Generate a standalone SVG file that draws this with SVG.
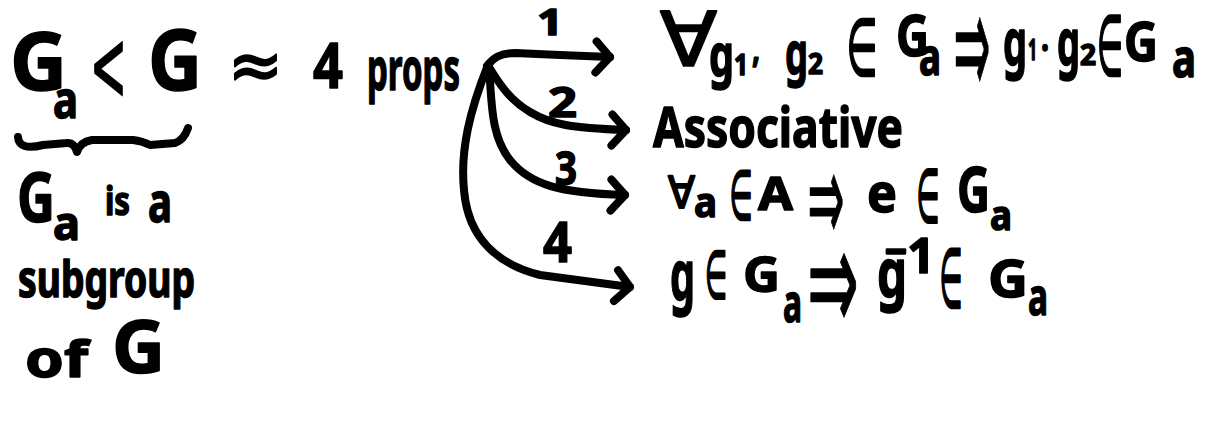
<svg xmlns="http://www.w3.org/2000/svg" width="1210" height="428" viewBox="0 0 1210 428">
<style>
text{font-family:"Noto Sans","DejaVu Sans",sans-serif;font-weight:700;fill:#000;stroke:#000;stroke-width:1.5;stroke-linejoin:round}
.m{font-family:"DejaVu Sans","Noto Sans",sans-serif;font-weight:400;stroke-width:2}
.c{font-family:"DejaVu Sans","Noto Sans",sans-serif;font-weight:400;stroke-width:2.5;text-anchor:middle;dominant-baseline:central}
.ar{font-family:"DejaVu Sans","Noto Sans",sans-serif;font-weight:400;stroke-width:1;text-anchor:middle;dominant-baseline:central;vector-effect:non-scaling-stroke}
.ln{fill:none;stroke:#000;stroke-width:8;stroke-linecap:round;stroke-linejoin:round}
</style>
<defs>
<marker id="ah" markerUnits="userSpaceOnUse" markerWidth="40" markerHeight="40" refX="0" refY="0" viewBox="-20 -20 40 40" orient="auto" overflow="visible">
<path d="M-14,-15 L0,0 L-14,16" fill="none" stroke="#000" stroke-width="8" stroke-linecap="round" stroke-linejoin="round"/>
</marker>
</defs>
<rect width="1210" height="428" fill="#fff"/>

<g id="lhs">
<text x="10" y="90" font-size="80" textLength="57" lengthAdjust="spacingAndGlyphs">G</text>
<text x="53" y="118" font-size="51" textLength="25" lengthAdjust="spacingAndGlyphs">a</text>
<text class="m" x="90" y="100" font-size="100" textLength="37" lengthAdjust="spacingAndGlyphs" stroke-width="5">&lt;</text>
<text x="148" y="90" font-size="84" textLength="54" lengthAdjust="spacingAndGlyphs">G</text>
<text class="m" x="228" y="89" font-size="70" textLength="55" lengthAdjust="spacingAndGlyphs" stroke-width="4">≈</text>
<text x="313" y="88" font-size="63" textLength="30" lengthAdjust="spacingAndGlyphs">4</text>
<text x="367" y="90" font-size="60" textLength="93" lengthAdjust="spacingAndGlyphs">props</text>
<path class="ln" d="M18,137 Q19,151 43,145 L67,143 Q74,142 77,152 Q80,142 92,140 L133,140 Q142,141 150,145 L175,143 Q184,140 188,128"/>
</g>

<g id="note">
<text x="17" y="222" font-size="68" textLength="38" lengthAdjust="spacingAndGlyphs">G</text>
<text x="53" y="240" font-size="46" textLength="27" lengthAdjust="spacingAndGlyphs">a</text>
<text x="105" y="215" font-size="40" textLength="25" lengthAdjust="spacingAndGlyphs">is</text>
<text x="148" y="222" font-size="55" textLength="24" lengthAdjust="spacingAndGlyphs">a</text>
<text x="18" y="297" font-size="50" textLength="177" lengthAdjust="spacingAndGlyphs">subgroup</text>
<text x="25" y="377" font-size="50" textLength="63" lengthAdjust="spacingAndGlyphs">of</text>
<text x="112" y="373" font-size="74" textLength="53" lengthAdjust="spacingAndGlyphs">G</text>
</g>

<g id="connectors">
<path class="ln" d="M487,66 C493,58 500,53 515,53 L560,55 L610,57" marker-end="url(#ah)"/>
<path class="ln" d="M489,67 C500,85 510,100 530,112 C550,124 570,128 626,130" marker-end="url(#ah)"/>
<path class="ln" d="M489,68 C492,100 490,135 510,160 C530,185 560,193 625,195" marker-end="url(#ah)"/>
<path class="ln" d="M488,65 C470,110 460,150 464,190 C468,240 500,265 540,275 L630,287" marker-end="url(#ah)"/>
<text x="537" y="35" font-size="35" textLength="26" lengthAdjust="spacingAndGlyphs">1</text>
<text x="548" y="117" font-size="41" textLength="29" lengthAdjust="spacingAndGlyphs">2</text>
<text x="555" y="185" font-size="46" textLength="22" lengthAdjust="spacingAndGlyphs">3</text>
<text x="543" y="262" font-size="56" textLength="29" lengthAdjust="spacingAndGlyphs">4</text>
</g>

<g id="p1">
<text class="m" x="660" y="66" font-size="75" textLength="57" lengthAdjust="spacingAndGlyphs">∀</text>
<text x="709" y="76" font-size="60" textLength="25" lengthAdjust="spacingAndGlyphs">g</text>
<text x="734" y="75" font-size="28" textLength="14" lengthAdjust="spacingAndGlyphs">1</text>
<text x="752" y="62" font-size="40" textLength="8" lengthAdjust="spacingAndGlyphs">,</text>
<text x="785" y="74" font-size="60" textLength="23" lengthAdjust="spacingAndGlyphs">g</text>
<text x="808" y="74" font-size="28" textLength="15" lengthAdjust="spacingAndGlyphs">2</text>
<text class="c" x="862" y="48" font-size="79" textLength="31" lengthAdjust="spacingAndGlyphs">∈</text>
<text x="896" y="56" font-size="58" textLength="33" lengthAdjust="spacingAndGlyphs">G</text>
<text x="919" y="75" font-size="52" textLength="22" lengthAdjust="spacingAndGlyphs">a</text>
<text class="ar" font-size="44" transform="translate(972,44) scale(1,3.4)">⇒</text>
<text x="1003" y="65" font-size="64" textLength="24" lengthAdjust="spacingAndGlyphs">g</text>
<text x="1028" y="60" font-size="28" textLength="9" lengthAdjust="spacingAndGlyphs">1</text>
<text x="1041" y="62" font-size="40" textLength="8" lengthAdjust="spacingAndGlyphs">·</text>
<text x="1057" y="65" font-size="64" textLength="23" lengthAdjust="spacingAndGlyphs">g</text>
<text x="1080" y="65" font-size="28" textLength="16" lengthAdjust="spacingAndGlyphs">2</text>
<text class="c" x="1110" y="46" font-size="84" textLength="26" lengthAdjust="spacingAndGlyphs">∈</text>
<text x="1124" y="61" font-size="53" textLength="34" lengthAdjust="spacingAndGlyphs">G</text>
<text x="1172" y="77" font-size="54" textLength="24" lengthAdjust="spacingAndGlyphs">a</text>
</g>

<g id="p2">
<text x="653" y="147" font-size="56" textLength="250" lengthAdjust="spacingAndGlyphs">Associative</text>
</g>

<g id="p3">
<text class="m" x="668" y="208" font-size="44" textLength="27" lengthAdjust="spacingAndGlyphs" stroke-width="3">∀</text>
<text x="694" y="217" font-size="42" textLength="23" lengthAdjust="spacingAndGlyphs">a</text>
<text class="c" x="741" y="195" font-size="68" textLength="23" lengthAdjust="spacingAndGlyphs">∈</text>
<text x="758" y="210" font-size="46" textLength="35" lengthAdjust="spacingAndGlyphs">A</text>
<text class="ar" font-size="40" transform="translate(826,198) scale(1.1,3.2)">⇒</text>
<text x="867" y="212" font-size="54" textLength="30" lengthAdjust="spacingAndGlyphs">e</text>
<text class="c" x="928" y="196" font-size="74" textLength="23" lengthAdjust="spacingAndGlyphs">∈</text>
<text x="957" y="212" font-size="63" textLength="33" lengthAdjust="spacingAndGlyphs">G</text>
<text x="990" y="230" font-size="41" textLength="22" lengthAdjust="spacingAndGlyphs">a</text>
</g>

<g id="p4">
<text x="670" y="300" font-size="70" textLength="25" lengthAdjust="spacingAndGlyphs">g</text>
<text class="c" x="716" y="275" font-size="66" textLength="22" lengthAdjust="spacingAndGlyphs">∈</text>
<text x="743" y="292" font-size="49" textLength="37" lengthAdjust="spacingAndGlyphs">G</text>
<text x="783" y="322" font-size="54" textLength="19" lengthAdjust="spacingAndGlyphs">a</text>
<text class="ar" font-size="44" transform="translate(833,280) scale(1.4,3.4)">⇒</text>
<text x="877" y="297" font-size="68" textLength="30" lengthAdjust="spacingAndGlyphs">g</text>
<text x="885" y="262" font-size="40" textLength="22" lengthAdjust="spacingAndGlyphs">-</text>
<text x="907" y="273" font-size="48" textLength="28" lengthAdjust="spacingAndGlyphs">1</text>
<text class="c" x="951" y="278" font-size="82" textLength="23" lengthAdjust="spacingAndGlyphs">∈</text>
<text x="988" y="297" font-size="52" textLength="40" lengthAdjust="spacingAndGlyphs">G</text>
<text x="1028" y="315" font-size="51" textLength="20" lengthAdjust="spacingAndGlyphs">a</text>
</g>
</svg>
